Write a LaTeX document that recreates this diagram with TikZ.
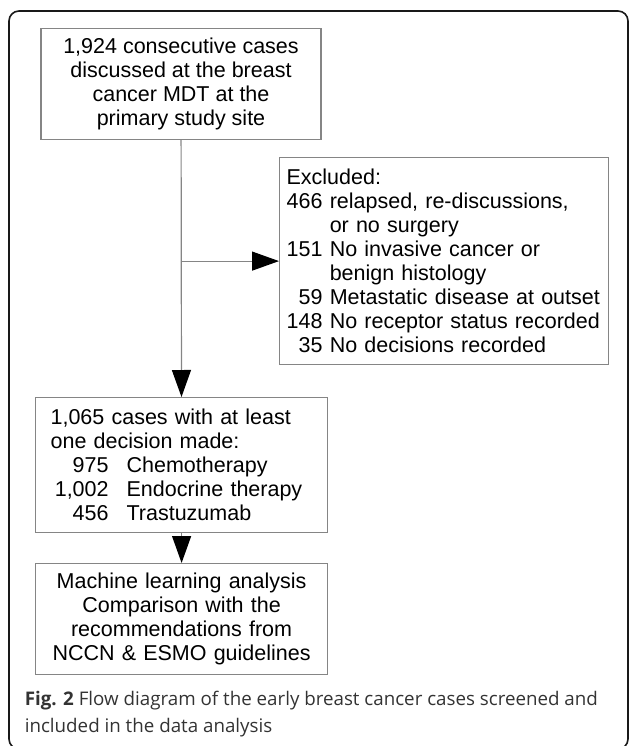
\documentclass[tikz,border=0pt]{standalone}
\usepackage{fontspec}
\setmainfont{Liberation Sans}
\newfontfamily\capfont{Open Sans}
\usetikzlibrary{arrows.meta,positioning}
\definecolor{boxgray}{gray}{0.52}
\tikzset{
    box/.style={
    rectangle,draw=boxgray,line width=1.2pt,inner xsep=7pt,inner ysep=0pt,
    font=\fontsize{21.5}{24}\selectfont
    },
    flow/.style={
    draw=boxgray,line width=1.2pt,
    -{Triangle[length=27pt,width=19pt,color=black]}
    },
    frame/.style={
    draw=black!90,line width=1.6pt,rounded corners=10pt
    },
    caption/.style={
    inner sep=0pt,align=left,text=black!80,
    font=\capfont\fontsize{18.75}{27}\selectfont
    },
}
\newcommand{\dnum}[1]{\makebox[58pt][r]{#1}\hspace{18pt}}
\newcommand{\xnum}[1]{\makebox[36pt][r]{#1}\ }

\begin{document}
\begin{tikzpicture}[x=1pt,y=-1pt]
   \useasboundingbox (0,0) rectangle (629,746);
   \draw[frame] (9,11) rectangle (628,749);

   \node[box,anchor=north,minimum width=280pt,minimum height=111pt,align=center]
     (screened) at (181,28) {1,924 consecutive cases\\discussed at the breast\\cancer MDT at the\\primary study site};
   \node[box,anchor=north west,text width=315pt,minimum height=207pt,align=left]
     (excluded) at (279,157) {Excluded:\\
       \xnum{466}relapsed, re-discussions,\\
       \xnum{}or no surgery\\
       \xnum{151}No invasive cancer or\\
       \xnum{}benign histology\\
       \xnum{59}Metastatic disease at outset\\
       \xnum{148}No receptor status recorded\\
       \xnum{35}No decisions recorded};
   \node[box,anchor=north west,inner xsep=15pt,text width=262pt,minimum height=135pt,align=left]
     (decided) at (35,397) {1,065 cases with at least\\one decision made:\\
       \dnum{975}Chemotherapy\\
       \dnum{1,002}Endocrine therapy\\
       \dnum{456}Trastuzumab};
   \node[box,anchor=north west,inner xsep=15pt,text width=262pt,minimum height=111pt,align=center]
     (analysis) at (35,563) {Machine learning analysis\\Comparison with the\\recommendations from\\NCCN \& ESMO guidelines};

   \node[caption,anchor=west] (fig) at (24.6,714.5)
     {\textbf{Fig. 2} Flow diagram of the early breast cancer cases screened and\\included in the data analysis};

   \draw[flow] (screened) -- (decided);
   \draw[flow] (screened.south |- excluded.west) -- (excluded.west);
   \draw[flow] (decided) -- (analysis);
\end{tikzpicture}
\end{document}
